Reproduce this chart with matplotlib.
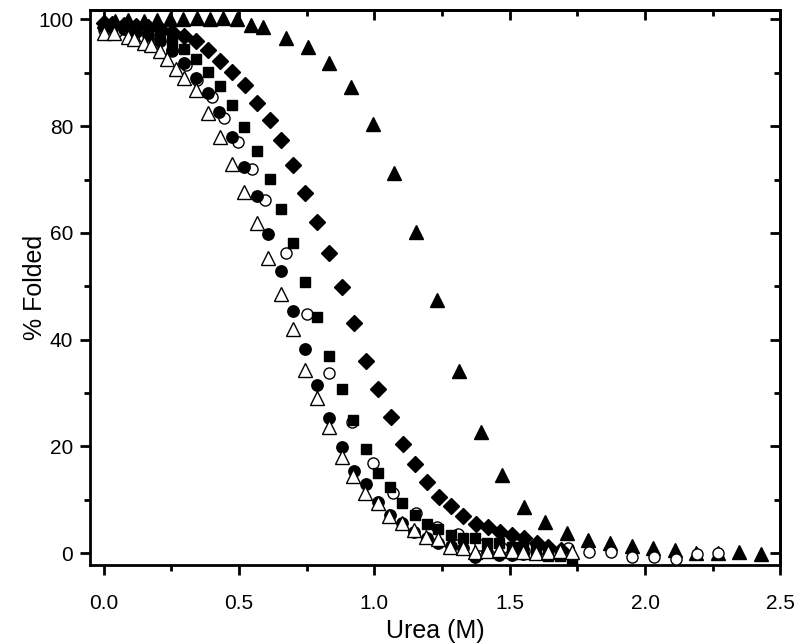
import matplotlib
matplotlib.use("Agg")
import matplotlib.pyplot as plt
from matplotlib.ticker import MultipleLocator, FormatStrFormatter

# Filled triangles
tri_x = [0.0, 0.044, 0.092, 0.148, 0.199, 0.247, 0.295, 0.347, 0.395, 0.443, 0.494, 0.546, 0.590,
         0.675, 0.756, 0.834, 0.915, 0.996, 1.074, 1.155, 1.232, 1.314, 1.395, 1.472, 1.553, 1.631,
         1.712, 1.790, 1.871, 1.952, 2.030, 2.111, 2.188, 2.269, 2.347, 2.428]
tri_y = [99.8, 99.8, 99.9, 99.8, 99.9, 100.0, 100.0, 100.2, 100.1, 100.2, 100.0, 98.9, 98.5,
         96.6, 94.9, 91.8, 87.3, 80.5, 71.2, 60.1, 47.4, 34.1, 22.7, 14.6, 8.6, 5.8,
         3.7, 2.4, 1.9, 1.3, 0.9, 0.6, 0.0, 0.0, 0.2, -0.2]

# Filled diamonds
dia_x = [0.0, 0.030, 0.075, 0.120, 0.164, 0.209, 0.254, 0.298, 0.343, 0.387, 0.432, 0.476, 0.524,
         0.568, 0.613, 0.657, 0.701, 0.745, 0.790, 0.834, 0.882, 0.926, 0.970, 1.015, 1.063, 1.107,
         1.151, 1.196, 1.240, 1.284, 1.328, 1.376, 1.421, 1.465, 1.509, 1.554, 1.601, 1.642, 1.690]
dia_y = [99.3, 99.2, 99.0, 98.8, 98.5, 98.2, 97.6, 96.9, 95.9, 94.2, 92.3, 90.1, 87.8,
         84.3, 81.1, 77.5, 72.7, 67.4, 62.0, 56.2, 49.8, 43.1, 36.1, 30.7, 25.5, 20.4,
         16.7, 13.3, 10.5, 8.8, 6.9, 5.4, 4.9, 3.9, 3.4, 2.8, 1.9, 1.1, 0.6]

# Filled squares
sq_x = [0.0, 0.030, 0.075, 0.120, 0.164, 0.209, 0.254, 0.298, 0.343, 0.384, 0.432, 0.476, 0.520,
        0.568, 0.613, 0.657, 0.701, 0.745, 0.790, 0.834, 0.882, 0.923, 0.970, 1.015, 1.059, 1.103,
        1.151, 1.196, 1.236, 1.284, 1.328, 1.373, 1.417, 1.461, 1.509, 1.550, 1.598, 1.642, 1.686, 1.731]
sq_y = [99.0, 98.8, 98.6, 98.3, 97.8, 97.0, 96.0, 94.5, 92.5, 90.1, 87.6, 83.9, 79.8,
        75.3, 70.2, 64.4, 58.1, 50.9, 44.2, 36.9, 30.7, 24.9, 19.5, 15.0, 12.4, 9.4,
        7.1, 5.4, 4.5, 3.4, 2.8, 2.8, 1.9, 1.9, 1.1, 1.1, 0.6, -0.6, -0.6, -1.3]

# Filled circles
fc_x = [0.0, 0.030, 0.075, 0.120, 0.164, 0.209, 0.254, 0.299, 0.343, 0.384, 0.428, 0.476, 0.520,
        0.565, 0.609, 0.657, 0.701, 0.745, 0.790, 0.834, 0.882, 0.926, 0.970, 1.015, 1.059, 1.103,
        1.148, 1.196, 1.236, 1.284, 1.328, 1.373, 1.417, 1.461, 1.509, 1.550]
fc_y = [98.6, 98.5, 98.2, 97.7, 97.0, 96.0, 94.3, 91.9, 89.1, 86.3, 82.6, 77.9, 72.3,
        66.9, 59.9, 52.8, 45.3, 38.2, 31.6, 25.3, 19.9, 15.4, 12.9, 9.6, 7.1, 5.6,
        3.9, 2.8, 1.9, 1.3, 0.9, -0.7, 0.3, -0.4, -0.4, -0.2]

# Open circles
oc_x = [0.0, 0.05, 0.10, 0.15, 0.20, 0.253, 0.303, 0.347, 0.399, 0.446, 0.498, 0.550, 0.598,
        0.675, 0.753, 0.834, 0.919, 0.996, 1.070, 1.155, 1.232, 1.310, 1.391, 1.472, 1.553,
        1.635, 1.716, 1.793, 1.875, 1.952, 2.033, 2.114, 2.192, 2.269]
oc_y = [98.0, 97.8, 97.4, 96.8, 95.8, 94.0, 91.4, 88.6, 85.4, 81.6, 77.0, 71.9, 66.1,
        56.2, 44.9, 33.7, 24.5, 16.9, 11.2, 7.5, 4.9, 3.6, 1.5, 0.9, 0.4,
        0.6, 0.9, 0.2, 0.2, -0.7, -0.7, -1.1, -0.2, 0.0]

# Open triangles
ot_x = [0.0, 0.037, 0.089, 0.114, 0.148, 0.177, 0.210, 0.236, 0.269, 0.299, 0.343, 0.384, 0.432,
        0.476, 0.520, 0.565, 0.609, 0.657, 0.701, 0.745, 0.790, 0.834, 0.882, 0.923, 0.967, 1.015,
        1.055, 1.103, 1.148, 1.192, 1.236, 1.280, 1.328, 1.373, 1.417, 1.461, 1.509, 1.550, 1.598,
        1.642, 1.686, 1.731]
ot_y = [97.4, 97.4, 96.8, 96.3, 95.5, 95.3, 94.0, 92.5, 90.8, 89.0, 86.7, 82.4, 77.9,
        73.0, 67.6, 61.8, 55.4, 48.5, 42.1, 34.3, 29.0, 23.6, 18.0, 14.4, 11.2, 9.4,
        6.9, 5.6, 4.3, 3.0, 2.6, 1.1, 0.9, 0.2, 0.4, 0.6, 0.4, 0.2, 0.0,
        0.2, 0.4, 0.2]

plt.rcParams['font.family'] = ['Liberation Sans', 'DejaVu Sans']

fig = plt.figure(figsize=(8.0, 6.44), dpi=100)
ax = fig.add_axes([0.1125, 0.1227, 0.863, 0.862])

ax.plot(tri_x, tri_y, linestyle='none', marker='^', ms=10, color='black', zorder=2)
ax.plot(oc_x, oc_y, linestyle='none', marker='o', ms=8, mfc='white', mec='black', mew=1.0, zorder=3)
ax.plot(dia_x, dia_y, linestyle='none', marker='D', ms=8.5, color='black', zorder=4)
ax.plot(sq_x, sq_y, linestyle='none', marker='s', ms=7.6, color='black', zorder=5)
ax.plot(fc_x, fc_y, linestyle='none', marker='o', ms=8.2, color='black', zorder=6)
ax.plot(ot_x, ot_y, linestyle='none', marker='^', ms=10, mfc='white', mec='black', mew=1.0, zorder=7)

ax.set_xlim(-0.05, 2.5)
ax.set_ylim(-2.2, 101.8)
ax.xaxis.set_major_locator(MultipleLocator(0.5))
ax.xaxis.set_minor_locator(MultipleLocator(0.25))
ax.yaxis.set_major_locator(MultipleLocator(20))
ax.yaxis.set_minor_locator(MultipleLocator(10))
ax.xaxis.set_major_formatter(FormatStrFormatter('%.1f'))

for s in ax.spines.values():
    s.set_linewidth(2.0)

ax.tick_params(which='both', direction='out', width=2.0, labelsize=15, top=False, right=False)
ax.tick_params(which='major', length=7)
ax.tick_params(which='minor', length=4)
ax.tick_params(axis='x', which='major', pad=14)
ax.tick_params(axis='y', which='major', pad=5)

# mirrored inward ticks on top/right
ax2 = ax.secondary_xaxis('top')
ax2.xaxis.set_major_locator(MultipleLocator(0.5))
ax2.xaxis.set_minor_locator(MultipleLocator(0.25))
ax2.tick_params(which='both', direction='in', width=2.0, labeltop=False)
ax2.tick_params(which='major', length=7)
ax2.tick_params(which='minor', length=4)
ax2.spines['top'].set_linewidth(2.0)
ay2 = ax.secondary_yaxis('right')
ay2.yaxis.set_major_locator(MultipleLocator(20))
ay2.yaxis.set_minor_locator(MultipleLocator(10))
ay2.tick_params(which='both', direction='in', width=2.0, labelright=False)
ay2.tick_params(which='major', length=7)
ay2.tick_params(which='minor', length=4)
ay2.spines['right'].set_linewidth(2.0)

ax.set_xlabel('Urea (M)', fontsize=18)
ax.set_ylabel('% Folded', fontsize=18)
ax.xaxis.set_label_coords(0.5, -0.097)
ax.yaxis.set_label_coords(-0.063, 0.5)

fig.savefig('out.png', dpi=100)
